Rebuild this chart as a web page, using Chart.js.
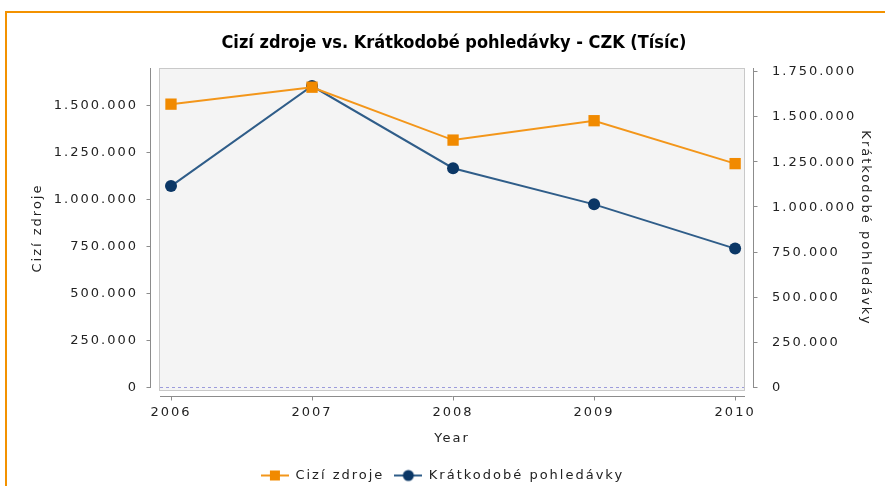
<!DOCTYPE html>
<html>
<head>
<meta charset="utf-8">
<script src="https://cdn.jsdelivr.net/npm/chart.js@4.4.0/dist/chart.umd.min.js"></script>
<style>
  html, body { margin: 0; background: #fff; overflow: hidden; }
  #chart { display: block; }
</style>
</head>
<body>
<canvas id="chart" width="885" height="486"></canvas>
<script>
// data
const years = [2006, 2007, 2008, 2009, 2010];
const ciziZdroje = [1508000, 1598000, 1317000, 1420000, 1192000];
const kratkodobePohledavky = [1118000, 1672000, 1217000, 1017000, 772000];
const leftTicks = [0, 250000, 500000, 750000, 1000000, 1250000, 1500000];
const rightTicks = [0, 250000, 500000, 750000, 1000000, 1250000, 1500000, 1750000];

const chartTitle = 'Cizí zdroje vs. Krátkodobé pohledávky - CZK (Tísíc)';
const seriesNames = ['Cizí zdroje', 'Krátkodobé pohledávky'];
const xTitle = 'Year';

const ORANGE = '#f18a00';
const ORANGE_LINE = '#f3961a';
const NAVY = '#0b3766';
const NAVY_LINE = '#2f5d89';
const TEXT = '#222222';
const FONT = "'DejaVu Sans', sans-serif";
const SPACING = '2px';

// tecka jako oddelovac tisicu
function fmt(v) {
    return String(v).replace(/\B(?=(\d{3})+(?!\d))/g, '.');
}

// maly obrazek pro legendu: cara + znacka
function legendIcon(lineColor, fillColor, shape) {
    const c = document.createElement('canvas');
    c.width = 28; c.height = 14;
    const g = c.getContext('2d');
    g.strokeStyle = lineColor; g.lineWidth = 2;
    g.beginPath(); g.moveTo(0, 7); g.lineTo(28, 7); g.stroke();
    g.fillStyle = fillColor;
    if (shape === 'rect') {
        g.fillRect(9, 2, 10, 10);
    } else {
        g.beginPath(); g.arc(14, 7, 5.5, 0, Math.PI * 2); g.fill();
    }
    return c;
}
const icons = [legendIcon(ORANGE_LINE, ORANGE, 'rect'), legendIcon(NAVY_LINE, NAVY, 'circle')];

const points = vals => years.map((y, i) => ({ x: y, y: vals[i] }));

// rozestup pismen
const spacingPlugin = {
    id: 'spacing',
    beforeLayout(chart) { chart.ctx.letterSpacing = SPACING; },
    beforeDraw(chart) { chart.ctx.letterSpacing = SPACING; }
};

// oranzovy ramecek, sede pozadi grafu, osy odsazene od plochy, titulek
const frameworkPlugin = {
    id: 'framework',
    beforeDraw(chart) {
        const ctx = chart.ctx;
        ctx.save();
        ctx.fillStyle = '#f39200';
        ctx.fillRect(5, 11, chart.width - 5, 2);
        ctx.fillRect(5, 11, 2, chart.height - 11);
        ctx.restore();
    },
    beforeDatasetsDraw(chart) {
        const { ctx, chartArea: a, scales } = chart;
        ctx.save();
        ctx.fillStyle = '#f4f4f4';
        ctx.fillRect(a.left, a.top, a.right - a.left, a.bottom - a.top + 3);
        ctx.strokeStyle = '#c9c9c9';
        ctx.lineWidth = 1;
        ctx.strokeRect(a.left + 0.5, a.top + 0.5, a.right - a.left - 1, a.bottom - a.top + 2);

        // nulova linka
        const y0 = Math.round(scales.y.getPixelForValue(0)) - 0.5;
        ctx.strokeStyle = '#9c9cdc';
        ctx.setLineDash([3, 3]);
        ctx.beginPath(); ctx.moveTo(a.left + 1, y0); ctx.lineTo(a.right - 1, y0); ctx.stroke();
        ctx.setLineDash([]);

        ctx.strokeStyle = '#8c8c8c';
        // leva osa
        const lx = a.left - 8.5;
        ctx.beginPath(); ctx.moveTo(lx, a.top); ctx.lineTo(lx, a.bottom); ctx.stroke();
        scales.y.ticks.forEach(t => {
            const py = Math.round(scales.y.getPixelForValue(t.value)) - 0.5;
            ctx.beginPath(); ctx.moveTo(lx - 4, py); ctx.lineTo(lx, py); ctx.stroke();
        });
        // prava osa
        const rx = a.right + 8.5;
        ctx.beginPath(); ctx.moveTo(rx, a.top); ctx.lineTo(rx, a.bottom); ctx.stroke();
        scales.y2.ticks.forEach(t => {
            const py = Math.round(scales.y2.getPixelForValue(t.value)) - 0.5;
            ctx.beginPath(); ctx.moveTo(rx, py); ctx.lineTo(rx + 4, py); ctx.stroke();
        });
        // osa x
        const bx = a.bottom + 8.5;
        ctx.beginPath(); ctx.moveTo(a.left + 1, bx); ctx.lineTo(a.right, bx); ctx.stroke();
        scales.x.ticks.forEach(t => {
            const px = Math.round(scales.x.getPixelForValue(t.value)) + 0.5;
            ctx.beginPath(); ctx.moveTo(px, bx); ctx.lineTo(px, bx + 4); ctx.stroke();
        });
        ctx.restore();
    },
    afterDraw(chart) {
        const { ctx, chartArea: a } = chart;
        ctx.save();
        ctx.letterSpacing = '0px';
        ctx.font = "bold 18px 'DejaVu Sans Condensed', 'DejaVu Sans', sans-serif";
        ctx.fillStyle = '#000';
        ctx.textAlign = 'center';
        ctx.textBaseline = 'middle';
        ctx.fillText(chartTitle, (a.left + a.right) / 2 + 2, 43);
        ctx.restore();
    }
};

new Chart(document.getElementById('chart'), {
    type: 'line',
    data: {
        datasets: [{
            label: seriesNames[0],
            data: points(ciziZdroje),
            yAxisID: 'y',
            borderColor: ORANGE_LINE,
            backgroundColor: ORANGE,
            borderWidth: 2,
            pointStyle: 'rect',
            pointRadius: 8,
            pointBorderWidth: 0,
            pointBackgroundColor: ORANGE
        }, {
            label: seriesNames[1],
            data: points(kratkodobePohledavky),
            yAxisID: 'y2',
            borderColor: NAVY_LINE,
            backgroundColor: NAVY,
            borderWidth: 2,
            pointStyle: 'circle',
            pointRadius: 6,
            pointBorderWidth: 0,
            pointBackgroundColor: NAVY
        }]
    },
    options: {
        responsive: false,
        animation: false,
        layout: { padding: { top: 68, left: 0, right: 0, bottom: -6 } },
        scales: {
            x: {
                type: 'linear',
                min: 2005.915,
                max: 2010.07,
                afterBuildTicks: s => { s.ticks = years.map(v => ({ value: v })); },
                afterFit: s => { s.height = 71; },
                grid: { display: false },
                border: { display: false },
                ticks: { color: TEXT, font: { family: FONT, size: 13 }, padding: 9, callback: v => String(v) },
                title: { display: true, text: xTitle, color: TEXT, font: { family: FONT, size: 13 }, padding: { top: 0, bottom: 13 } }
            },
            y: {
                position: 'left',
                min: 0,
                max: 1700000,
                afterBuildTicks: s => { s.ticks = leftTicks.map(v => ({ value: v })); },
                afterFit: s => { s.width = 159; },
                grid: { display: false },
                border: { display: false },
                ticks: { color: TEXT, font: { family: FONT, size: 13 }, padding: 13, callback: v => fmt(v) },
                title: { display: true, text: seriesNames[0], color: TEXT, font: { family: FONT, size: 13 }, padding: { top: 30, bottom: 0 } }
            },
            y2: {
                position: 'right',
                min: 0,
                max: 1772000,
                afterBuildTicks: s => { s.ticks = rightTicks.map(v => ({ value: v })); },
                afterFit: s => { s.width = 140; },
                grid: { display: false },
                border: { display: false },
                ticks: { color: TEXT, font: { family: FONT, size: 13 }, padding: 19, callback: v => fmt(v) },
                title: { display: true, text: seriesNames[1], color: TEXT, font: { family: FONT, size: 13 }, padding: { top: 12, bottom: 0 } }
            }
        },
        plugins: {
            title: { display: false },
            tooltip: { enabled: false },
            legend: {
                position: 'bottom',
                labels: {
                    color: TEXT,
                    font: { family: FONT, size: 13 },
                    usePointStyle: true,
                    pointStyleWidth: 28,
                    padding: 10,
                    generateLabels: chart => Chart.defaults.plugins.legend.labels.generateLabels(chart)
                        .map((item, i) => Object.assign(item, { pointStyle: icons[i] }))
                }
            }
        }
    },
    plugins: [spacingPlugin, frameworkPlugin]
});
</script>
</body>
</html>
